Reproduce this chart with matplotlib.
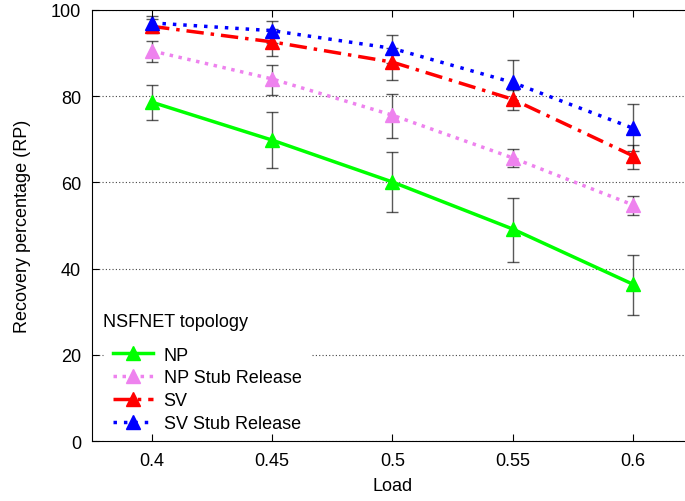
import matplotlib.pyplot as plt

plt.rcParams['font.family'] = ['Liberation Sans', 'DejaVu Sans']

load = [0.4, 0.45, 0.5, 0.55, 0.6]

np_rp = [78.6, 69.8, 60.1, 49.2, 36.4]
np_lo = [74.5, 63.3, 53.1, 41.5, 29.2]
np_hi = [82.6, 76.3, 67.1, 56.4, 43.2]

nps_rp = [90.5, 84.0, 75.6, 65.7, 54.8]
nps_lo = [88.0, 80.3, 70.3, 63.5, 52.5]
nps_hi = [92.9, 87.2, 80.6, 67.7, 56.8]

sv_rp = [96.2, 92.6, 87.9, 79.3, 66.2]
sv_lo = [94.6, 89.4, 83.8, 76.8, 63.1]
sv_hi = [98.0, 95.6, 91.2, 81.5, 68.7]

svs_rp = [97.0, 95.2, 91.1, 83.2, 72.6]
svs_lo = [94.8, 92.4, 87.6, 78.5, 67.4]
svs_hi = [98.6, 97.4, 94.3, 88.4, 78.1]

series = [
    ('NP', np_rp, np_lo, np_hi, '#00ff00', '-'),
    ('NP Stub Release', nps_rp, nps_lo, nps_hi, '#ee82ee', (0, (1.0, 1.6))),
    ('SV', sv_rp, sv_lo, sv_hi, '#ff0000', (0, (5, 2, 1, 2))),
    ('SV Stub Release', svs_rp, svs_lo, svs_hi, '#0000ff', (0, (1.0, 2.0))),
]

fig = plt.figure(figsize=(6.85, 5.02), dpi=100)
ax = fig.add_axes([0.1343, 0.1195, 0.877, 0.8586])

for label, y, lo, hi, col, ls in series:
    yerr = [[v - l for v, l in zip(y, lo)], [h - v for v, h in zip(y, hi)]]
    ax.errorbar(load, y, yerr=yerr, fmt='none', ecolor='black', elinewidth=1,
                capsize=4, capthick=1, alpha=0.65, zorder=2)
    ax.plot(load, y, color=col, linestyle=ls, linewidth=2.5, marker='^',
            markersize=10, label=label, zorder=3)

ax.set_xlim(0.375, 0.625)
ax.set_ylim(0, 100)
ax.set_xticks(load)
ax.set_xticklabels(['0.4', '0.45', '0.5', '0.55', '0.6'])
ax.set_yticks([0, 20, 40, 60, 80, 100])
ax.tick_params(direction='in', top=True, right=False, labelsize=13, length=5, pad=8)
ax.yaxis.grid(True, linestyle=(0, (1, 2)), color='#444444', linewidth=0.8)
ax.set_axisbelow(True)

ax.set_xlabel('Load', fontsize=13, labelpad=6)
ax.set_ylabel('Recovery percentage (RP)', fontsize=13, labelpad=14)

ax.text(0.018, 0.278, 'NSFNET topology', transform=ax.transAxes, fontsize=13,
        ha='left', va='center', zorder=5)

leg = ax.legend(loc='lower left', bbox_to_anchor=(0.02, 0.0), borderaxespad=0,
                frameon=True, fancybox=False, edgecolor='white', framealpha=1,
                fontsize=13, handlelength=2.2, labelspacing=0.32,
                borderpad=0.5, handletextpad=0.6)
leg.set_zorder(4)

# keep the frame and bottom ticks above the legend box
for sp in ax.spines.values():
    sp.set_zorder(6)
ax.xaxis.set_zorder(6)

fig.savefig('out.png', dpi=100)
